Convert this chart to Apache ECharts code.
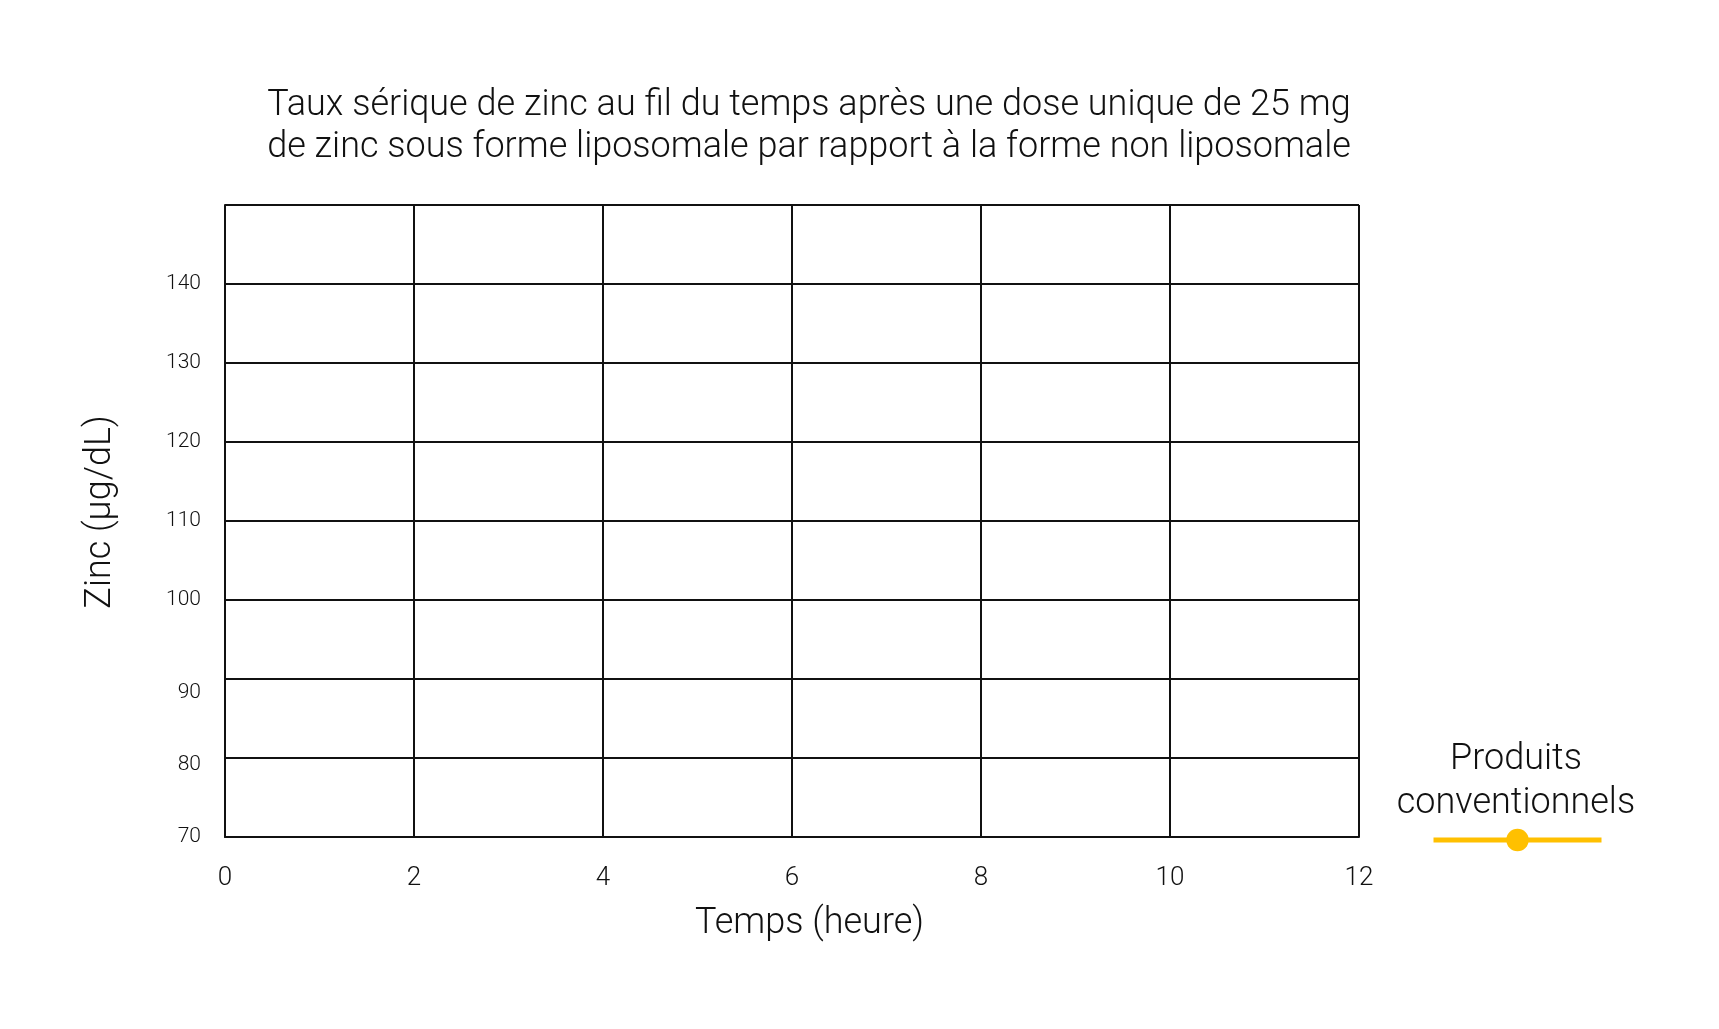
<!DOCTYPE html>
<html>
<head>
<meta charset="utf-8">
<script src="https://cdn.jsdelivr.net/npm/echarts@6/dist/echarts.min.js"></script>
<style>
html,body{margin:0;padding:0;background:#fff;}
#chart{width:1719px;height:1029px;}
</style>
</head>
<body>
<div id="chart"></div>
<script>
var titleLines = ['Taux sérique de zinc au fil du temps après une dose unique de 25 mg', 'de zinc sous forme liposomale par rapport à la forme non liposomale'];
var xAxisName = 'Temps (heure)';
var yAxisName = 'Zinc (µg/dL)';
var xTicks = [0, 2, 4, 6, 8, 10, 12];
var yTicks = [70, 80, 90, 100, 110, 120, 130, 140, 150];
var seriesName = 'Produits conventionnels';
var seriesLegendLabel = 'Produits\nconventionnels';
var seriesValues = [];

var FONT = 'Roboto';
var W = 300;
var chart = echarts.init(document.getElementById('chart'), null, {renderer: 'canvas'});
chart.setOption({
  backgroundColor: '#ffffff',
  animation: false,
  title: [{
    text: titleLines.join('\n'),
    left: 804, top: 80, textAlign: 'center',
    textStyle: {fontFamily: FONT, fontSize: 36, fontWeight: W, color: '#111', lineHeight: 42}
  }, {
    text: seriesLegendLabel,
    left: 1511, top: 733, textAlign: 'center',
    textStyle: {fontFamily: FONT, fontSize: 36, fontWeight: W, color: '#111', lineHeight: 44}
  }],
  legend: {
    data: [seriesName],
    left: 1426, top: 821,
    itemWidth: 168, itemHeight: 28,
    formatter: function () { return ''; },
    textStyle: {fontSize: 1},
    lineStyle: {width: 5},
    selectedMode: false
  },
  grid: {left: 225, right: 360, top: 205, bottom: 192, containLabel: false},
  xAxis: {
    type: 'value',
    min: xTicks[0], max: xTicks[xTicks.length - 1], interval: 2,
    name: xAxisName, nameLocation: 'middle', nameGap: 69,
    nameTextStyle: {fontFamily: FONT, fontSize: 36, fontWeight: W, color: '#111', padding: [0, 0, 0, 35]},
    axisLine: {show: true, onZero: false, lineStyle: {color: '#111', width: 2}},
    axisTick: {show: false},
    axisLabel: {fontFamily: FONT, fontSize: 26, fontWeight: W, color: '#111', margin: 28},
    splitLine: {show: true, lineStyle: {color: '#111', width: 2}}
  },
  yAxis: {
    type: 'value',
    min: yTicks[0], max: yTicks[yTicks.length - 1], interval: 10,
    name: yAxisName, nameLocation: 'middle', nameGap: 106,
    nameTextStyle: {fontFamily: FONT, fontSize: 36, fontWeight: W, color: '#111', padding: [0, 0, 0, 18]},
    axisLine: {show: true, lineStyle: {color: '#111', width: 2}},
    axisTick: {show: false},
    axisLabel: {fontFamily: FONT, fontSize: 21, fontWeight: W, color: '#111', margin: 24,
      formatter: function (v) {
        if (v === yTicks[yTicks.length - 1]) return '';
        if (v === 90) return '{d90|' + v + '}';
        if (v === 80) return '{d80|' + v + '}';
        return String(v);
      },
      rich: {
        d90: {fontFamily: FONT, fontSize: 21, fontWeight: W, color: '#111', padding: [28, 0, 0, 0]},
        d80: {fontFamily: FONT, fontSize: 21, fontWeight: W, color: '#111', padding: [14, 0, 0, 0]}
      }
    },
    splitLine: {show: true, lineStyle: {color: '#111', width: 2}}
  },
  series: [{
    name: seriesName,
    type: 'line',
    data: seriesValues,
    color: '#FFC000',
    symbol: 'circle',
    symbolSize: 22,
    lineStyle: {width: 5, color: '#FFC000'},
    itemStyle: {color: '#FFC000'}
  }]
});
</script>
</body>
</html>
